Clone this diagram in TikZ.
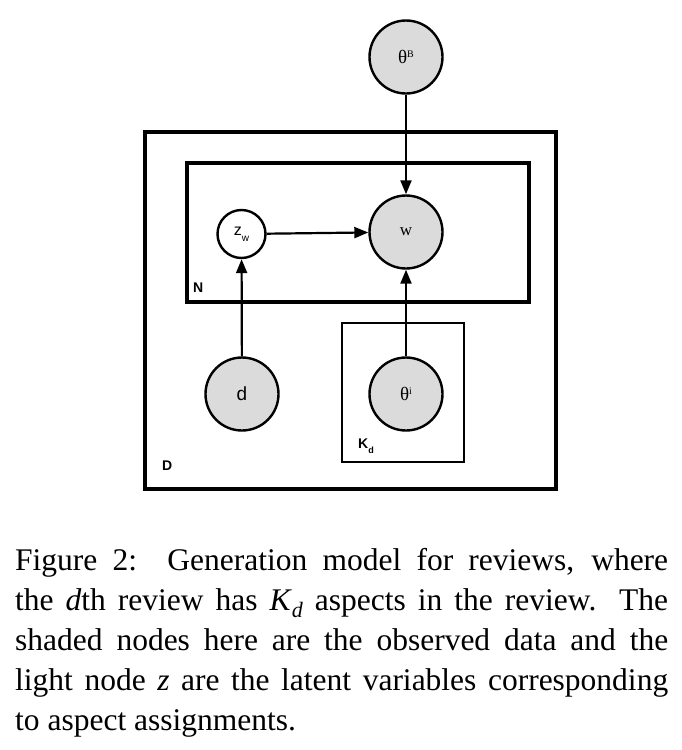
\documentclass[tikz,border=0pt]{standalone}
\usepackage{fontspec}
\setmainfont{Liberation Serif}
\setsansfont{Liberation Sans}
\usetikzlibrary{arrows.meta}

\begin{document}
\begin{tikzpicture}[x=1pt, y=-1pt,
  obs/.style={draw, circle, line width=2.4pt, fill=black!14, minimum size=73pt, inner sep=0pt},
  latent/.style={draw, circle, line width=2.4pt, fill=white, minimum size=48pt, inner sep=0pt},
  plate/.style={draw, line width=3.5pt},
  platelabel/.style={anchor=base west, inner sep=0pt, font=\sffamily\bfseries\fontsize{14}{14}\selectfont},
  arr/.style={-{Triangle[length=14pt, width=11pt]}, line width=2.2pt}]
\useasboundingbox (0,0) rectangle (682,750);
% plates
\draw[plate, fill=white] (145,132) rectangle (556,489);
\draw[plate] (187,163) rectangle (529,302);
\draw[plate, line width=2.6pt] (342,323) rectangle (464,462);
\node[platelabel] (N) at (193,292) {N};
\node[platelabel] (D) at (162,470) {D};
\node[platelabel] (Kd) at (358,448) {K\raisebox{-5pt}{\fontsize{9}{9}\selectfont d}};
% variables
\node[obs, font=\fontsize{19}{19}\selectfont] (thetaB) at (406,57) {θ\raisebox{6pt}{\fontsize{10}{10}\selectfont B}};
\node[obs, font=\fontsize{17}{17}\selectfont] (w) at (406,232) {w};
\node[latent, font=\sffamily\fontsize{16}{16}\selectfont] (zw) at (241.5,234) {z\raisebox{-6pt}{\fontsize{10}{10}\selectfont w}};
\node[obs, font=\sffamily\fontsize{19}{19}\selectfont] (d) at (242,394) {d};
\node[obs, font=\fontsize{19}{19}\selectfont] (thetai) at (406,394) {θ\raisebox{6pt}{\fontsize{10}{10}\selectfont i}};
% edges
\draw[arr] (thetaB) -- (w);
\draw[arr] (zw) -- (w);
\draw[arr] (d) -- (zw);
\draw[arr] (thetai) -- (w);
% caption
\node[anchor=north west, inner sep=0pt, text width=653pt, align=justify,
  font=\fontsize{31.5}{40}\selectfont] (caption) at (15,548.5)
  {Figure 2:\ \ Generation model for reviews, where\linebreak
   the \textit{d}th review has \textit{K}\raisebox{-7pt}{\fontsize{22}{22}\selectfont\itshape d} aspects in the review. The\linebreak
   shaded nodes here are the observed data and the\linebreak
   light node \textit{z} are the latent variables corresponding\linebreak
   to aspect assignments.};
\end{tikzpicture}
\end{document}
